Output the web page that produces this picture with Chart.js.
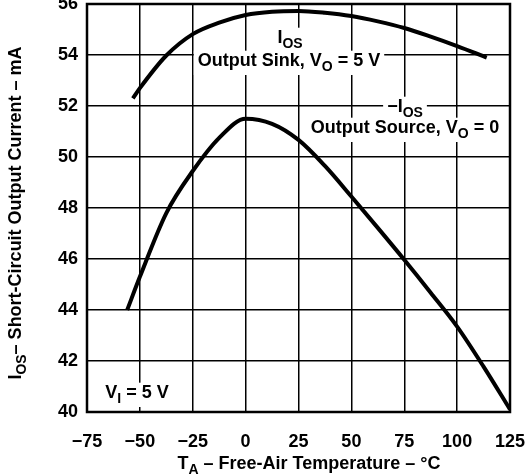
<!DOCTYPE html>
<html>
<head>
<meta charset="utf-8">
<script src="https://cdn.jsdelivr.net/npm/chart.js@4"></script>
<style>
  html,body{margin:0;padding:0;background:#fff;}
  #wrap{width:525px;height:474px;}
</style>
</head>
<body>
<div id="wrap"><canvas id="c" width="525" height="474"></canvas></div>
<script>
// short-circuit output current vs free-air temperature
const xTicks = [-75, -50, -25, 0, 25, 50, 75, 100, 125];
const yTicks = [40, 42, 44, 46, 48, 50, 52, 54, 56];

// I_OS, output sink, VO = 5 V
const sinkTemp    = [-53.3, -50, -37.5, -25, -12.5, 0, 12.5, 25, 37.5, 50, 62.5, 75, 87.5, 100, 114];
const sinkCurrent = [52.3, 52.7, 53.98, 54.82, 55.27, 55.57, 55.7, 55.73, 55.66, 55.53, 55.32, 55.06, 54.72, 54.35, 53.9];

// -I_OS, output source, VO = 0
const sourceTemp    = [-56, -50, -37.5, -25, -12.5, 0, 12.5, 25, 37.5, 50, 62.5, 75, 87.5, 100, 112.5, 125];
const sourceCurrent = [44.0, 45.3, 47.8, 49.45, 50.75, 51.5, 51.3, 50.67, 49.65, 48.45, 47.22, 45.97, 44.68, 43.35, 41.78, 40.1];

const FONT = '"Liberation Sans", Arial, sans-serif';

function pts(xs, ys){ return xs.map((x,i)=>({x, y:ys[i]})); }

// draw text made of normal and subscript pieces
function richWidth(ctx, parts, size){
  let w = 0;
  parts.forEach(p=>{
    ctx.font = 'bold ' + (p.sub ? Math.round(size*0.8) : size) + 'px ' + FONT;
    w += ctx.measureText(p.t).width;
  });
  return w;
}
function drawRich(ctx, parts, cx, y, size, box){
  const w = richWidth(ctx, parts, size);
  let x = cx - w/2;
  if(box){
    ctx.fillStyle = '#fff';
    ctx.fillRect(x-4, y-size*0.85, w+8, size*1.35);
  }
  ctx.fillStyle = '#000';
  ctx.textBaseline = 'alphabetic';
  ctx.textAlign = 'left';
  parts.forEach(p=>{
    const s = p.sub ? Math.round(size*0.8) : size;
    ctx.font = 'bold ' + s + 'px ' + FONT;
    ctx.fillText(p.t, x, y + (p.sub ? size*0.3 : 0));
    x += ctx.measureText(p.t).width;
  });
}

const labelsPlugin = {
  id:'labels',
  beforeDatasetsDraw(chart){
    const ctx = chart.ctx;
    ctx.save();
    drawRich(ctx, [{t:'I'},{t:'OS',sub:true}], 290, 43, 18, true);
    drawRich(ctx, [{t:'Output Sink, V'},{t:'O',sub:true},{t:' = 5 V'}], 289, 66, 18, true);
    drawRich(ctx, [{t:'\u2212I'},{t:'OS',sub:true}], 405, 112, 18, true);
    drawRich(ctx, [{t:'Output Source, V'},{t:'O',sub:true},{t:' = 0'}], 405, 133, 18, true);
    drawRich(ctx, [{t:'V'},{t:'I',sub:true},{t:' = 5 V'}], 137, 398, 18, true);
    ctx.restore();
  },
  afterDraw(chart){
    const ctx = chart.ctx, a = chart.chartArea;
    ctx.save();
    ctx.strokeStyle = '#000';
    ctx.lineWidth = 2.5;
    ctx.strokeRect(a.left, a.top, a.right-a.left, a.bottom-a.top);
    // axis titles
    drawRich(ctx, [{t:'T'},{t:'A',sub:true},{t:' \u2013 Free-Air Temperature \u2013 \u00b0C'}], 309, 469, 18, false);
    ctx.translate(21, 213);
    ctx.rotate(-Math.PI/2);
    drawRich(ctx, [{t:'I'},{t:'OS',sub:true},{t:'\u2013 Short-Circuit Output Current \u2013 mA'}], 0, 0, 18, false);
    ctx.restore();
  }
};

new Chart(document.getElementById('c'), {
  type:'line',
  data:{
    datasets:[
      {label:'IOS sink', data:pts(sinkTemp, sinkCurrent)},
      {label:'-IOS source', data:pts(sourceTemp, sourceCurrent)}
    ]
  },
  options:{
    responsive:false,
    animation:false,
    devicePixelRatio:1,
    layout:{padding:{top:4, right:15, left:0, bottom:0}},
    elements:{
      line:{borderColor:'#000', borderWidth:4, cubicInterpolationMode:'monotone', fill:false, borderCapStyle:'butt'},
      point:{radius:0}
    },
    plugins:{legend:{display:false}, tooltip:{enabled:false}},
    scales:{
      x:{
        type:'linear', min:-75, max:125,
        afterBuildTicks: s => { s.ticks = xTicks.map(v=>({value:v})); },
        afterFit: s => { s.height = 62; s.paddingLeft = 0; s.paddingRight = 0; },
        grid:{color:'#000', lineWidth:1.5, drawTicks:false},
        border:{display:false},
        ticks:{
          padding:19, color:'#000',
          font:{family:FONT, size:18, weight:'bold'},
          callback: v => String(v).replace('-', '\u2212')
        }
      },
      y:{
        type:'linear', min:40, max:56,
        afterBuildTicks: s => { s.ticks = yTicks.map(v=>({value:v})); },
        afterFit: s => { s.width = 87; s.paddingTop = 0; s.paddingBottom = 0; },
        grid:{color:'#000', lineWidth:1.5, drawTicks:false},
        border:{display:false},
        ticks:{
          padding:9, color:'#000',
          font:{family:FONT, size:18, weight:'bold'}
        }
      }
    }
  },
  plugins:[labelsPlugin]
});
</script>
</body>
</html>
